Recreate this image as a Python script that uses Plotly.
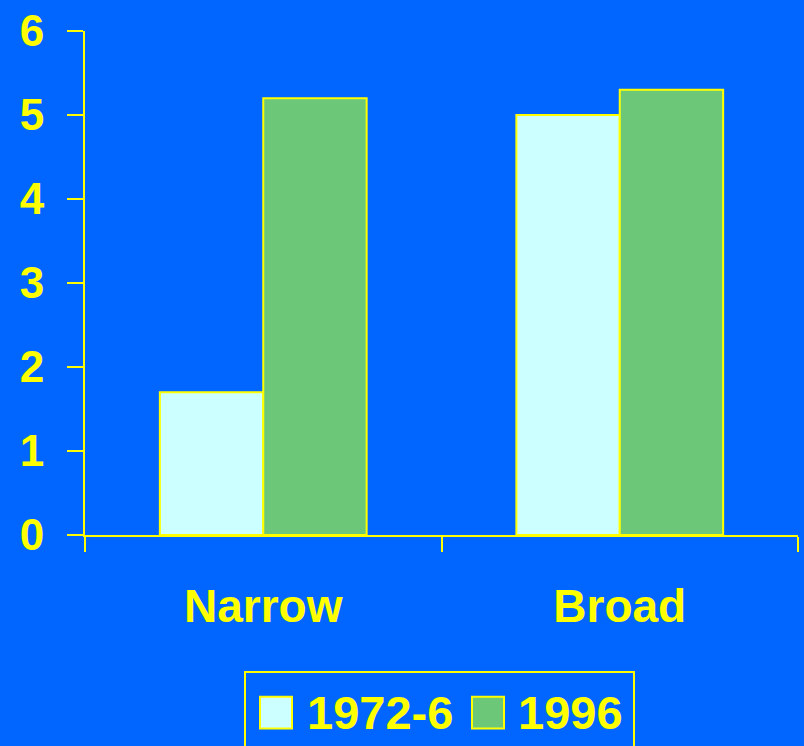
import plotly.graph_objects as go

categories = ["Narrow", "Broad"]
series_names = ["1972-6", "1996"]
values_1972 = [1.7, 5.0]
values_1996 = [5.2, 5.3]
y_ticks = [0, 1, 2, 3, 4, 5, 6]

BG = "#0066FF"
YEL = "#FFFF00"
COLORS = ["#CCFFFF", "#6CC878"]
FONT = "Liberation Sans, Arial, sans-serif"

fig = go.Figure()
for name, vals, col in zip(series_names, [values_1972, values_1996], COLORS):
    fig.add_trace(go.Bar(x=categories, y=vals, name=name, marker=dict(color=col, line=dict(color=YEL, width=2)),
                         showlegend=False))

TOP = 27
BOT = 535
fig.update_layout(
    width=804, height=746,
    paper_bgcolor=BG, plot_bgcolor=BG,
    margin=dict(l=85, r=6, t=TOP, b=746 - BOT),
    barmode="group", bargap=0.42, bargroupgap=0,
    font=dict(family=FONT, color=YEL, size=44),
    xaxis=dict(showline=True, linecolor=YEL, linewidth=2, ticks="outside", tickson="boundaries",
               ticklen=15, tickwidth=2, tickcolor=YEL, showgrid=False, zeroline=False,
               tickfont=dict(family=FONT, size=46, color=YEL, weight="bold"), ticklabelstandoff=30),
    yaxis=dict(range=[0, 6], tickvals=y_ticks, showline=True, linecolor=YEL, linewidth=2, ticks="outside",
               ticklen=16, tickwidth=2, tickcolor=YEL, showgrid=False, zeroline=False,
               tickfont=dict(family=FONT, size=44, color=YEL, weight="bold"), ticklabelstandoff=14),
)

# Manual legend (paper coordinates)
def px_x(px):
    return (px - 85) / (798 - 85)

def px_y(py):
    return (BOT - py) / (BOT - TOP)

fig.add_shape(type="rect", xref="paper", yref="paper", x0=px_x(245), x1=px_x(634), y0=px_y(760), y1=px_y(673),
              line=dict(color=YEL, width=2), fillcolor=BG, layer="above")
sw_x = [260, 472]
tx_x = [305, 516]
for name, col, sx, tx in zip(series_names, COLORS, sw_x, tx_x):
    fig.add_shape(type="rect", xref="paper", yref="paper", x0=px_x(sx), x1=px_x(sx + 32), y0=px_y(730), y1=px_y(698),
                  line=dict(color=YEL, width=2), fillcolor=col)
    fig.add_annotation(xref="paper", yref="paper", x=px_x(tx), y=px_y(714), xanchor="left", yanchor="middle",
                       text=name, showarrow=False,
                       font=dict(family=FONT, size=47, color=YEL, weight="bold"))

fig.write_html("out.html", config={"displayModeBar": False},
               post_script="document.body.style.margin='0';document.body.style.background='#0066FF';document.body.style.overflow='hidden';")
